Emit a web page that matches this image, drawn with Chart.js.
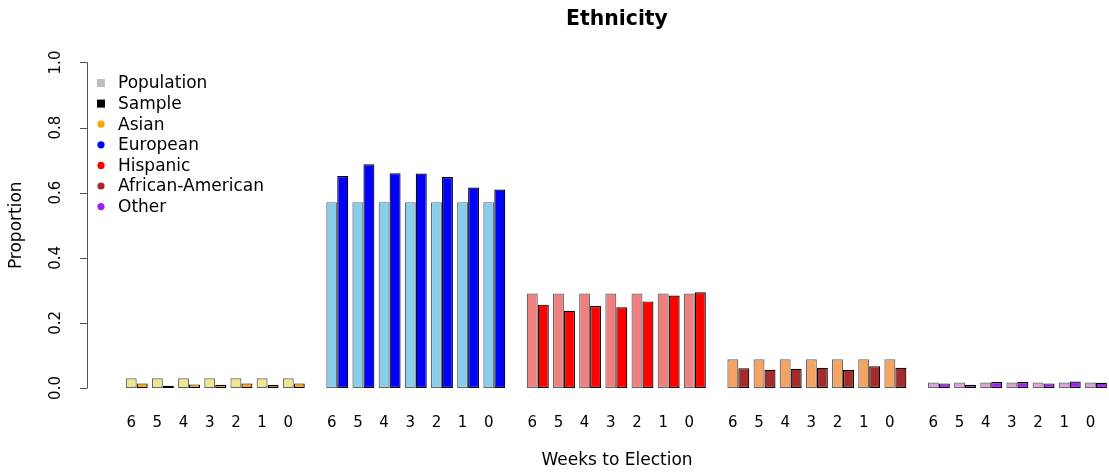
<!DOCTYPE html>
<html>
<head>
<meta charset="utf-8">
<title>Ethnicity</title>
<script src="https://cdn.jsdelivr.net/npm/chart.js@4"></script>
<style>
  html, body { margin: 0; padding: 0; background: #fff; overflow: hidden; }
  canvas { display: block; }
</style>
</head>
<body>
<canvas id="chart" width="1160" height="474"></canvas>
<script>
// Categories
const weeks = ["6", "5", "4", "3", "2", "1", "0"];
const groups = ["Asian", "European", "Hispanic", "African-American", "Other"];

// Population proportions
const asianPop = [0.030, 0.030, 0.030, 0.030, 0.030, 0.030, 0.030];
const europeanPop = [0.571, 0.571, 0.571, 0.571, 0.571, 0.571, 0.571];
const hispanicPop = [0.290, 0.290, 0.290, 0.290, 0.290, 0.290, 0.290];
const africanPop = [0.088, 0.088, 0.088, 0.088, 0.088, 0.088, 0.088];
const otherPop = [0.017, 0.017, 0.017, 0.017, 0.017, 0.017, 0.017];

// Sample proportions
const asianSample = [0.014, 0.007, 0.011, 0.010, 0.014, 0.009, 0.014];
const europeanSample = [0.651, 0.687, 0.660, 0.659, 0.648, 0.616, 0.610];
const hispanicSample = [0.256, 0.237, 0.252, 0.248, 0.266, 0.284, 0.294];
const africanSample = [0.061, 0.056, 0.059, 0.062, 0.056, 0.067, 0.062];
const otherSample = [0.014, 0.010, 0.018, 0.018, 0.014, 0.020, 0.016];

// Tick labels for the y axis
const yTicks = [0, 0.2, 0.4, 0.6, 0.8, 1.0];

// Legend entries
const keyLabels = ["Population", "Sample", "Asian", "European", "Hispanic", "African-American", "Other"];

const popColors = ["#F0E68C", "#87CEEB", "#F08080", "#F4A460", "#DDA0DD"];
const sampleColors = ["#FFA500", "#0000FF", "#FF0000", "#A52A2A", "#A020F0"];
const keyColors = ["#BEBEBE", "#000000"].concat(sampleColors);

const population = [asianPop, europeanPop, hispanicPop, africanPop, otherPop];
const sample = [asianSample, europeanSample, hispanicSample, africanSample, otherSample];

const FONT = "'DejaVu Sans', sans-serif";
const GROUP_STEP = 7.662; // space taken by one group, in bar-pair units
const HALF_BAR = 0.21;    // half of one bar, in bar-pair units

// Build the two datasets (population left, sample right of each pair)
const popData = [], sampleData = [], popBg = [], sampleBg = [], tickPos = [];
groups.forEach((g, gi) => {
  weeks.forEach((w, wi) => {
    const x = gi * GROUP_STEP + wi;
    popData.push({ x: x, y: population[gi][wi] });
    sampleData.push({ x: x, y: sample[gi][wi] });
    popBg.push(popColors[gi]);
    sampleBg.push(sampleColors[gi]);
    tickPos.push(x - HALF_BAR);
  });
});

// Draws the R style y axis and the key inside the plot
const rStyle = {
  id: "rStyle",
  afterDraw(chart) {
    const ctx = chart.ctx;
    const y = chart.scales.y;
    const axisX = chart.chartArea.left;
    ctx.save();
    ctx.strokeStyle = "#555";
    ctx.lineWidth = 1;
    ctx.beginPath();
    ctx.moveTo(axisX + 0.5, y.getPixelForValue(yTicks[0]));
    ctx.lineTo(axisX + 0.5, y.getPixelForValue(yTicks[yTicks.length - 1]));
    yTicks.forEach((t) => {
      const py = Math.round(y.getPixelForValue(t)) + 0.5;
      ctx.moveTo(axisX - 7, py);
      ctx.lineTo(axisX + 0.5, py);
    });
    ctx.stroke();

    ctx.fillStyle = "#000";
    ctx.font = "15px " + FONT;
    ctx.textAlign = "center";
    ctx.textBaseline = "middle";
    yTicks.forEach((t) => {
      ctx.save();
      ctx.translate(56, y.getPixelForValue(t));
      ctx.rotate(-Math.PI / 2);
      ctx.fillText(t.toFixed(1), 0, 0);
      ctx.restore();
    });

    // key
    ctx.font = "17px " + FONT;
    ctx.textAlign = "left";
    keyLabels.forEach((label, i) => {
      const cy = 83 + i * 20.6;
      ctx.fillStyle = keyColors[i];
      if (i < 2) {
        ctx.fillRect(97, cy - 4, 8, 8);
      } else {
        ctx.beginPath();
        ctx.arc(101, cy, 3.6, 0, Math.PI * 2);
        ctx.fill();
      }
      ctx.fillStyle = "#000";
      ctx.fillText(label, 118, cy + 1);
    });
    ctx.restore();
  },
};

Chart.defaults.font.family = FONT;
Chart.defaults.color = "#000";

new Chart(document.getElementById("chart").getContext("2d"), {
  type: "bar",
  data: {
    datasets: [
      {
        label: "Population",
        data: popData,
        backgroundColor: popBg,
        borderColor: "rgba(0,0,0,0.6)",
        borderWidth: 1.2,
        borderSkipped: false,
        inflateAmount: 0,
      },
      {
        label: "Sample",
        data: sampleData,
        backgroundColor: sampleBg,
        borderColor: "#000",
        borderWidth: 1.2,
        borderSkipped: false,
        inflateAmount: 0,
      },
    ],
  },
  options: {
    responsive: false,
    animation: false,
    categoryPercentage: 0.84,
    barPercentage: 1,
    layout: { padding: { left: 0, right: 13, top: 0, bottom: 0 } },
    scales: {
      x: {
        type: "linear",
        offset: false,
        min: -1.899,
        max: 38.6,
        grid: { display: false, drawTicks: false },
        border: { display: false },
        afterBuildTicks: (scale) => {
          scale.ticks = tickPos.map((v) => ({ value: v }));
        },
        afterFit: (scale) => {
          scale.height = 73;
        },
        ticks: {
          autoSkip: false,
          maxRotation: 0,
          padding: 13,
          font: { size: 15 },
          callback: (value, index) => weeks[index % weeks.length],
        },
        title: {
          display: true,
          text: "Weeks to Election",
          font: { size: 17 },
          padding: { top: 0, bottom: 3 },
        },
      },
      y: {
        min: -0.04,
        max: 1.04,
        grid: { display: false },
        border: { display: false },
        ticks: { display: false },
        afterFit: (scale) => {
          scale.width = 87;
        },
        title: {
          display: true,
          text: "Proportion",
          font: { size: 17 },
          padding: { top: 6, bottom: 0 },
        },
      },
    },
    plugins: {
      legend: { display: false },
      tooltip: { enabled: false },
      title: {
        display: true,
        text: "Ethnicity",
        fullSize: false,
        color: "#000",
        font: { size: 20.4, weight: "bold" },
        padding: { top: 7, bottom: 18 },
      },
    },
  },
  plugins: [rStyle],
});
</script>
</body>
</html>
